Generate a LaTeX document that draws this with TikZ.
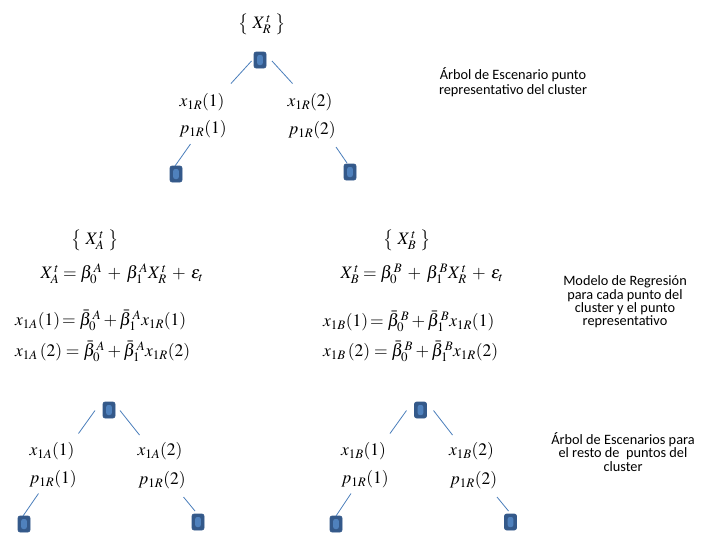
\documentclass[tikz,border=0pt]{standalone}
\usepackage[no-math]{fontspec}
\usepackage{mathptmx}
\setmainfont{Liberation Serif}
\newfontfamily\carlito{Carlito}
\definecolor{boxdark}{HTML}{34598A}
\definecolor{boxlight}{HTML}{4F81BD}
\definecolor{linkblue}{HTML}{4A7EBB}
\newcommand{\pl}{\mskip3mu+\mskip3mu}
\tikzset{
  leaf/.style={draw=boxdark, fill=boxdark, rounded corners=2pt, minimum width=12pt,
    minimum height=16pt, inner sep=0pt, line width=0.6pt,
    path picture={\fill[boxlight] ([xshift=-2.8pt,yshift=-5pt]path picture bounding box.center)
      rectangle ([xshift=2.8pt,yshift=5pt]path picture bounding box.center);}},
  link/.style={draw=linkblue, line width=0.8pt},
  mth/.style={inner sep=0pt, font=\fontsize{17.5}{20}\selectfont},
  eqn/.style={inner sep=0pt, text height=12pt, text depth=5pt, font=\fontsize{17.5}{20}\selectfont},
  note/.style={inner sep=0pt, align=center, font=\carlito\fontsize{14.3}{13.3}\selectfont}
}
\begin{document}
\begin{tikzpicture}[x=1pt,y=-1pt]
\useasboundingbox[fill=white] (0,0) rectangle (701,536);

% ---------- top tree ----------
\node[mth] (setR) at (262,24) {$\bigl\{\;X^{\,t}_R\;\bigr\}$};
\node[leaf] (rT) at (260,60) {};
\node[mth] (rx1) at (202,102) {$x_{1R}(1)$};
\node[mth] (rx2) at (310,102) {$x_{1R}(2)$};
\node[mth] (rp1) at (203,129) {$p_{1R}(1)$};
\node[mth] (rp2) at (312,130) {$p_{1R}(2)$};
\node[leaf] (rL) at (176,174) {};
\node[leaf] (rR) at (350,172) {};
\coordinate (ra1) at (251.5,61); \coordinate (ra2) at (231,83.5);
\coordinate (rb1) at (272,61); \coordinate (rb2) at (292.5,83.5);
\coordinate (rc1) at (190.5,144); \coordinate (rc2) at (175,166);
\coordinate (rd1) at (336,147); \coordinate (rd2) at (347,163);
\draw[link] (ra1) -- (ra2);
\draw[link] (rb1) -- (rb2);
\draw[link] (rc1) -- (rc2);
\draw[link] (rd1) -- (rd2);
\node[note, font=\carlito\fontsize{14.3}{15}\selectfont] (n1) at (513,82) {Árbol de Escenario punto\\representativo del cluster};

% ---------- regression A ----------
\node[mth] (setA) at (95,240) {$\bigl\{\;X^{\,t}_A\;\bigr\}$};
\node[eqn] (eA) at (122,275) {$X^{\,t}_A=\beta^{\,A}_0\pl\beta^{\,A}_1X^{\,t}_R\pl\varepsilon_t$};
\node[eqn,anchor=west] (eA1) at (15,322) {$x_{1A}(1)\!=\bar\beta^{\,A}_0+\bar\beta^{\,A}_1x_{1R}(1)$};
\node[eqn,anchor=west] (eA2) at (15,353) {$x_{1A}\,(2)=\bar\beta^{\,A}_0+\bar\beta^{\,A}_1x_{1R}(2)$};

% ---------- regression B ----------
\node[mth] (setB) at (407,240) {$\bigl\{\;X^{\,t}_B\;\bigr\}$};
\node[eqn] (eB) at (422,275) {$X^{\,t}_B=\beta^{\,B}_0\pl\beta^{\,B}_1X^{\,t}_R\pl\varepsilon_t$};
\node[eqn,anchor=west] (eB1) at (323,323) {$x_{1B}(1)\!=\bar\beta^{\,B}_0+\bar\beta^{\,B}_1x_{1R}(1)$};
\node[eqn,anchor=west] (eB2) at (323,353) {$x_{1B}\,(2)=\bar\beta^{\,B}_0+\bar\beta^{\,B}_1x_{1R}(2)$};

\node[note] (n2) at (625,302) {Modelo de Regresión\\para cada punto del\\cluster y el punto\\representativo};

% ---------- tree A ----------
\node[leaf] (aT) at (109,410) {};
\node[mth] (ax1) at (52,451) {$x_{1A}(1)$};
\node[mth] (ax2) at (160,451) {$x_{1A}(2)$};
\node[mth] (ap1) at (53,479) {$p_{1R}(1)$};
\node[mth] (ap2) at (162,480) {$p_{1R}(2)$};
\node[leaf] (aL) at (24,524) {};
\node[leaf] (aR) at (198,522) {};
\coordinate (aa1) at (95,410.5); \coordinate (aa2) at (78.5,433.5);
\coordinate (ab1) at (120,410.5); \coordinate (ab2) at (139.5,435);
\coordinate (ac1) at (38.5,493.5); \coordinate (ac2) at (23,516);
\coordinate (ad1) at (183.5,497); \coordinate (ad2) at (195,511);
\draw[link] (aa1) -- (aa2);
\draw[link] (ab1) -- (ab2);
\draw[link] (ac1) -- (ac2);
\draw[link] (ad1) -- (ad2);

% ---------- tree B ----------
\node[leaf] (bT) at (420.5,410) {};
\node[mth] (bx1) at (363.5,451) {$x_{1B}(1)$};
\node[mth] (bx2) at (471.5,451) {$x_{1B}(2)$};
\node[mth] (bp1) at (365,479) {$p_{1R}(1)$};
\node[mth] (bp2) at (473.5,480) {$p_{1R}(2)$};
\node[leaf] (bL) at (336,524) {};
\node[leaf] (bR) at (510.5,522) {};
\coordinate (ba1) at (406.5,410.5); \coordinate (ba2) at (390,433.5);
\coordinate (bb1) at (433.5,410.5); \coordinate (bb2) at (452.5,435);
\coordinate (bc1) at (351,493.5); \coordinate (bc2) at (336,516);
\coordinate (bd1) at (497,497); \coordinate (bd2) at (508.5,511);
\draw[link] (ba1) -- (ba2);
\draw[link] (bb1) -- (bb2);
\draw[link] (bc1) -- (bc2);
\draw[link] (bd1) -- (bd2);

\node[note] (n3) at (623,452) {Árbol de Escenarios para\\el resto de\ \ puntos\ del\\cluster};
\end{tikzpicture}
\end{document}
